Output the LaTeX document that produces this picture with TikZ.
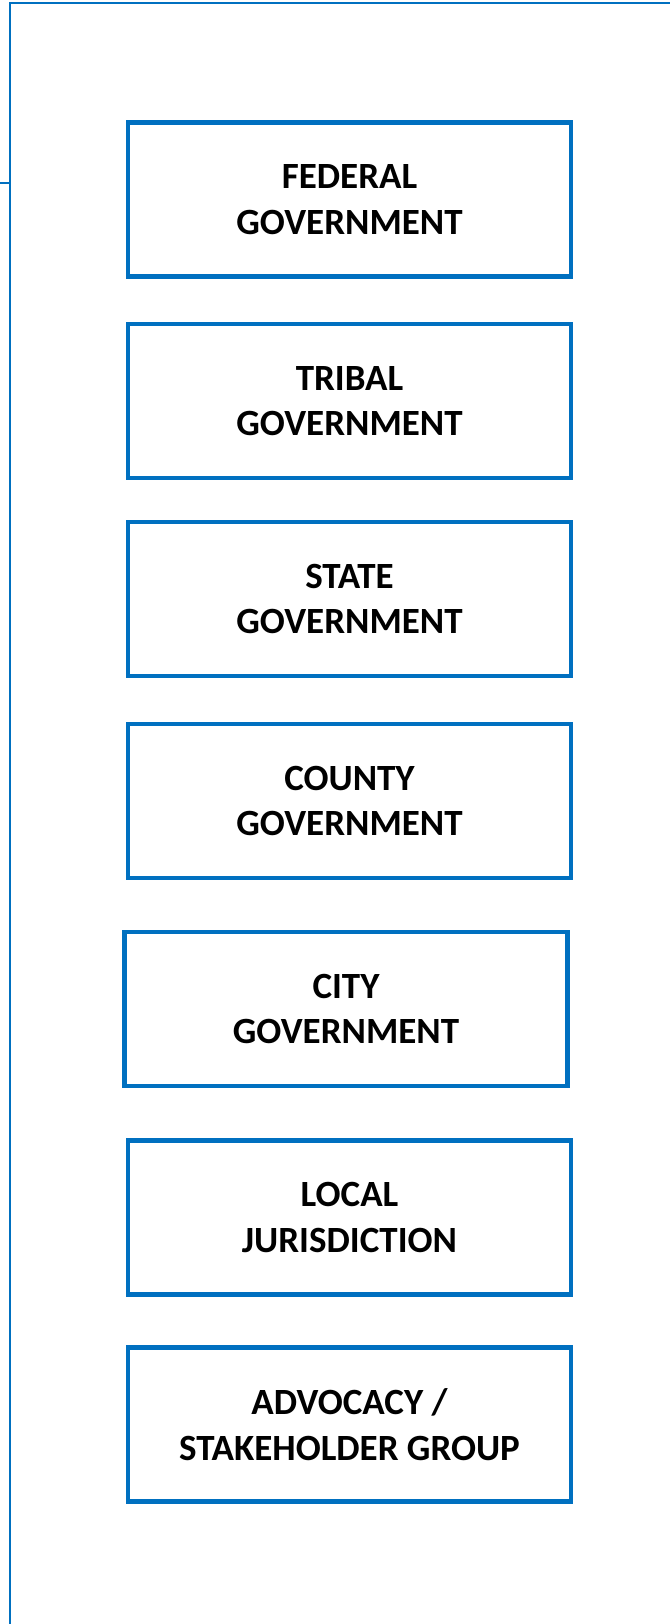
\documentclass[tikz,border=0pt]{standalone}
\usepackage{fontspec}
\setmainfont{Carlito}
\definecolor{govblue}{RGB}{0,112,192}
\tikzset{
  level/.style={draw=govblue,line width=4.5pt,minimum width=443pt,minimum height=154pt,align=center,font=\fontsize{37}{45.5}\selectfont\bfseries},
  frame/.style={govblue,line width=2.6pt}
}
\begin{document}
\begin{tikzpicture}[node distance=203pt]
\useasboundingbox (0,0) rectangle (670pt,-1624pt);
\draw[frame](0,-183pt) -- (10pt,-183pt);
\draw[frame](10pt,-1624pt) -- (10pt,-3pt) -- (670pt,-3pt);
\node[level](FED) at (349.5pt,-199.5pt){FEDERAL\\GOVERNMENT};
\node[level,below of = FED,yshift=1.5pt](TRIBAL){TRIBAL\\GOVERNMENT};
\node[level,below of = TRIBAL,yshift=5pt](STATE){STATE\\GOVERNMENT};
\node[level,below of = STATE,yshift=1pt](COUNTY){COUNTY\\GOVERNMENT};
\node[level,below of = COUNTY,yshift=-5pt,xshift=-3.5pt](CITY){CITY\\GOVERNMENT};
\node[level,below of = CITY,yshift=-5.5pt,xshift=3.5pt](LOCAL){LOCAL\\JURISDICTION};
\node[level,below of = LOCAL,yshift=-4pt](ADVOCACY){ADVOCACY /\\STAKEHOLDER GROUP};
\end{tikzpicture}
\end{document}
